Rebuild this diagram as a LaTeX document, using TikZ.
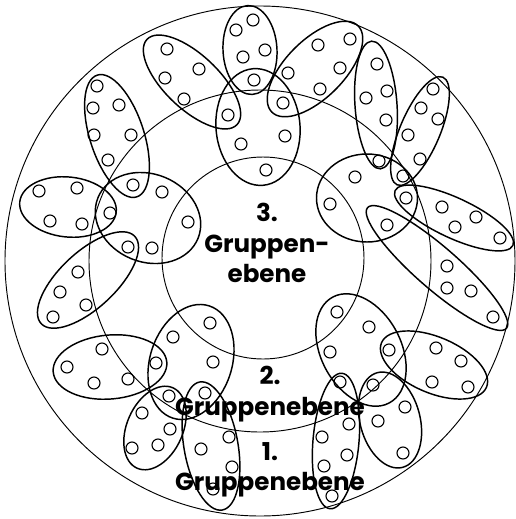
\documentclass[tikz,border=0pt]{standalone}
\usepackage{fontspec}
\setmainfont{Poppins}
\usepackage{tikz}

\begin{document}
\begin{tikzpicture}[
          x=0.03cm, y=-0.03cm,
          ring/.style={line width=0.8pt},
          petal/.style={line width=1.25pt},
          dot/.style={line width=0.95pt},
          lbl/.style={font=\fontsize{21}{26}\selectfont\bfseries, align=center, inner sep=0pt}
      ]
        \useasboundingbox (0,0) rectangle (516,519);
        \draw[ring] (260,261) circle (255);
        \draw[ring] (260,261) circle (171);
        \draw[ring] (263,258) circle (101);
        % petals: centre x / centre y / half length / half width / turn
        \foreach \cx/\cy/\a/\b/\r in {
            250/50/44.5/27/-87, 192/82/62/27/-43.5, 315/69/61/29/45, 258/127/58.5/42/-85,
            117/136/64/27/-72, 68/207/48.5/30/-6, 148/218/54/44/-22, 88/280/64/28/43,
            110/367/57/32/5, 191/362/59/41/-108, 155/428/44/28/-114, 211/446/65/27/-80,
            361/350/60/40/-62, 434/365/57/28/-23, 336/441/68/23/-95, 390/420/49/30/-75,
            376/105/64/21/-86, 420/131/58.5/20/-113, 367/198/50.5/44/0, 454/218/65/20/-25,
            437/268/92/21/-41}
          \draw[petal, rotate around={\r:(\cx,\cy)}] (\cx,\cy) ellipse [x radius=\a, y radius=\b];
        % members
        \foreach \p in {
            (236,30),(253,20),(243,57),(265,50),(254,80),
            (167,49),(165,78),(199,69),(184,99),(228,115),
            (318,45),(350,39),(340,68),(320,89),(288,73),(283,103),
            (241,144),(285,136),(266,170),
            (97,86),(93,108),(119,105),(94,135),(131,135),(108,160),(133,185),
            (39,191),(77,188),(50,221),(82,224),(110,213),
            (162,192),(188,222),(152,248),(128,247),
            (78,272),(60,292),(86,305),(53,317),
            (102,349),(67,367),(94,383),(128,379),(156,363),
            (173,337),(210,323),(213,362),(205,393),(169,396),
            (142,413),(170,429),(132,448),(158,445),
            (229,437),(201,449),(232,467),(213,489),
            (337,312),(369,327),(330,352),(389,350),(340,382),(373,385),
            (436,348),(461,361),(432,382),(468,387),
            (349,424),(322,437),(347,455),(324,466),(332,496),
            (405,407),(378,421),(403,453),
            (377,64),(366,98),(387,91),(386,120),(379,161),
            (433,89),(421,108),(438,119),(408,135),(420,159),(403,176),
            (355,177),(330,204),(406,198),(387,225),
            (442,207),(476,217),(455,227),(500,238),
            (447,266),(447,288),(471,291),(493,317)}
          \draw[dot] \p circle (6);
        \node[lbl] (lvl3) at (267,243) {3.\\Gruppen-\\ebene};
        \node[lbl] (lvl2) at (270,394) {2.\\Gruppenebene};
        \node[lbl] (lvl1) at (270,470) {1.\\Gruppenebene};
      \end{tikzpicture}
\end{document}
